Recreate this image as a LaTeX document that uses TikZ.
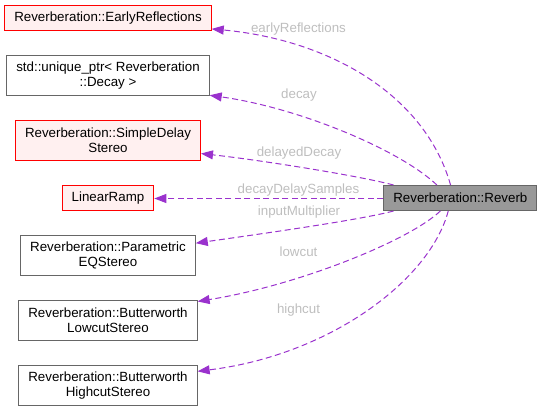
\documentclass[tikz,border=0pt]{standalone}
\usepackage{fontspec}
\setmainfont{Liberation Sans}
\usetikzlibrary{arrows.meta,positioning}
\definecolor{edgepurple}{HTML}{9A32CD}
\definecolor{labelgrey}{HTML}{BEBEBE}
\definecolor{undocfill}{HTML}{FFF0F0}
\definecolor{boxgrey}{HTML}{666666}
\definecolor{mainfill}{HTML}{999999}

\begin{document}
\begin{tikzpicture}[
  x=1pt, y=-1pt, node distance=24pt,
  box/.style={draw=boxgrey, line width=1pt, fill=white, inner xsep=9.5pt, inner ysep=6pt, minimum height=25pt, align=center, font=\fontsize{13.33}{15}\selectfont},
  undoc/.style={box, draw=red, fill=undocfill},
  twoline/.style={minimum height=40pt},
  current/.style={box, fill=mainfill},
  dep/.style={draw=edgepurple, line width=1pt, dash pattern=on 6pt off 3.5pt, -{Triangle[length=12pt, width=9pt]}},
  elabel/.style={text=labelgrey, inner sep=0pt, font=\fontsize{13.33}{15}\selectfont}
]
\useasboundingbox (0,0) rectangle (541,412);

\node[undoc, minimum width=205pt] (early) at (108,18) {Reverberation::EarlyReflections};
\node[box, twoline, below=of early] (ptr) {std::unique\_ptr< Reverberation\\::Decay >};
\node[undoc, twoline, below=of ptr] (sdelay) {Reverberation::SimpleDelay\\Stereo};
\node[undoc, below=of sdelay] (ramp) {LinearRamp};
\node[box, twoline, below=of ramp] (peq) {Reverberation::Parametric\\EQStereo};
\node[box, twoline, below=of peq] (low) {Reverberation::Butterworth\\LowcutStereo};
\node[box, twoline, below=of low] (high) {Reverberation::Butterworth\\HighcutStereo};
\node[current, right=229pt of ramp] (rev) {Reverberation::Reverb};

\draw[dep] (rev.127) .. controls (425,95) and (330,40) .. (early.-6);
\draw[dep] (rev.151) .. controls (400,150) and (300,108) .. (ptr.-11);
\draw[dep] (rev.169) .. controls (360,176) and (260,160) .. (sdelay.-8);
\draw[dep] ([yshift=-0.5pt]rev.west) -- ([yshift=-0.5pt]ramp.east);
\draw[dep] (rev.-169) .. controls (360,220) and (260,234) .. (peq.8);
\draw[dep] (rev.-147) .. controls (410,240) and (300,285) .. (low.12);
\draw[dep] (rev.-133) .. controls (430,280) and (330,355) .. (high.9);

\node[elabel] (learly) at (298.5,29) {earlyReflections};
\node[elabel] (ldecay) at (299,95) {decay};
\node[elabel] (ldelayed) at (299,153) {delayedDecay};
\node[elabel] (lsamples) at (298.5,190) {decayDelaySamples};
\node[elabel] (linput) at (299,212.5) {inputMultiplier};
\node[elabel] (llow) at (298.5,252) {lowcut};
\node[elabel] (lhigh) at (298.5,310) {highcut};
\end{tikzpicture}
\end{document}
